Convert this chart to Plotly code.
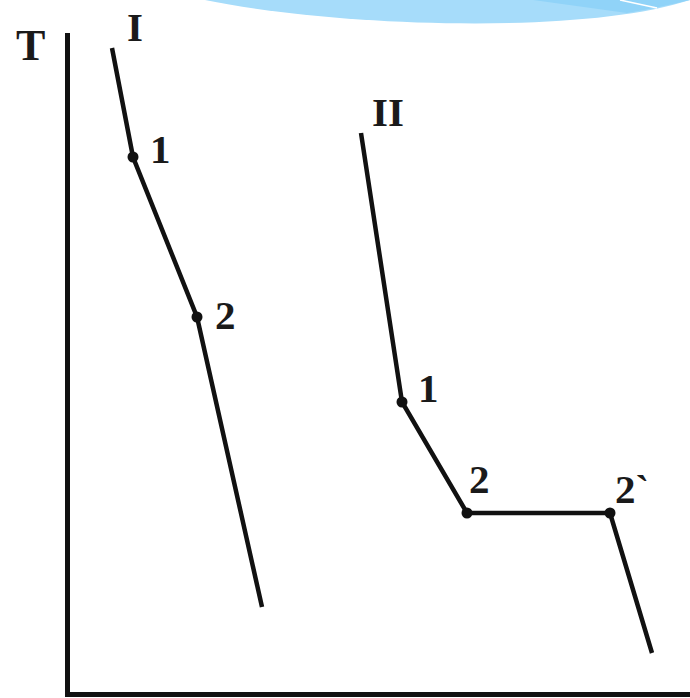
import plotly.graph_objects as go

# Cooling curves: time (arbitrary units) vs temperature T (arbitrary units)
curve1_time = [42, 63, 127, 192]
curve1_temp = [644, 535, 375, 85]
curve1_marked = [False, True, True, False]

curve2_time = [291, 332, 397, 540, 582]
curve2_temp = [559, 290, 179, 179, 39]
curve2_marked = [False, True, True, True, False]

# Labels of the curves and their break points
curve_names = ["I", "II"]
point_labels_1 = ["1", "2"]
point_labels_2 = ["1", "2", "2`"]

W, H = 690, 698
ML, MR, MT, MB = 70, 0, 33, 6
X_RANGE = [0, W - ML - MR]
Y_RANGE = [0, H - MT - MB]

INK = "#111111"
SERIF = "Liberation Serif, Times New Roman, serif"

fig = go.Figure()

for xs, ys, marks in [(curve1_time, curve1_temp, curve1_marked),
                      (curve2_time, curve2_temp, curve2_marked)]:
    fig.add_trace(go.Scatter(
        x=xs, y=ys, mode="lines",
        line=dict(color=INK, width=4.5),
        hoverinfo="skip", showlegend=False,
    ))
    fig.add_trace(go.Scatter(
        x=[x for x, m in zip(xs, marks) if m],
        y=[y for y, m in zip(ys, marks) if m],
        mode="markers",
        marker=dict(color=INK, size=11),
        hoverinfo="skip", showlegend=False,
    ))

# labels are placed in paper space so that they may sit outside the axis ranges
def label(text, x, y, size=41):
    fig.add_annotation(x=x / X_RANGE[1], y=y / Y_RANGE[1], xref="paper", yref="paper",
                       text=f"<b>{text}</b>", showarrow=False,
                       font=dict(family=SERIF, size=size, color="#1a1a1a"),
                       xanchor="center", yanchor="middle")

# curve names just above each curve's start
label(curve_names[0], curve1_time[0] + 23, curve1_temp[0] + 21)
label(curve_names[1], curve2_time[0] + 27, curve2_temp[0] + 21)

# break point labels, to the upper right of each marked point
pts1 = [(x, y) for x, y, m in zip(curve1_time, curve1_temp, curve1_marked) if m]
offs1 = [(27, 8), (28, 2)]
for t, (x, y), (dx, dy) in zip(point_labels_1, pts1, offs1):
    label(t, x + dx, y + dy)

pts2 = [(x, y) for x, y, m in zip(curve2_time, curve2_temp, curve2_marked) if m]
offs2 = [(26, 14), (12, 34), (22, 24)]
for t, (x, y), (dx, dy) in zip(point_labels_2, pts2, offs2):
    label(t, x + dx, y + dy)

# axis title T at the top of the vertical axis
label("T", 30 - ML, H - MB - 46, size=44)

# decorative blue swoosh along the top edge (pixel -> paper helpers)
def px(x):
    return (x - ML) / X_RANGE[1]

def py(y):
    return (H - MB - y) / Y_RANGE[1]

def path(cmds):
    out = []
    for c in cmds:
        if isinstance(c, str):
            out.append(c)
        else:
            out.append(f"{px(c[0]):.5f},{py(c[1]):.5f}")
    return " ".join(out)

fig.add_shape(type="path", xref="paper", yref="paper", layer="above",
              path=path(["M", (205, -2), "L", (205, 0), "C", (330, 26), (580, 36), (690, 0),
                         "L", (690, -2), "Z"]),
              fillcolor="#a6dcfa", line=dict(width=0))
fig.add_shape(type="path", xref="paper", yref="paper", layer="above",
              path=path(["M", (533, -2), "L", (533, 0), "L", (627, 13), "Q", (662, 7), (690, 0),
                         "L", (690, -2), "Z"]),
              fillcolor="#90d3f8", line=dict(width=0))
fig.add_shape(type="line", xref="paper", yref="paper", layer="above",
              x0=px(620), y0=py(0), x1=px(657), y1=py(8),
              line=dict(color="white", width=1.5))

axis_common = dict(showline=True, linecolor=INK, linewidth=5, showgrid=False,
                   zeroline=False, showticklabels=False, ticks="", fixedrange=True)

fig.update_layout(
    width=W, height=H,
    margin=dict(l=ML, r=MR, t=MT, b=MB),
    paper_bgcolor="white", plot_bgcolor="white",
    xaxis=dict(range=X_RANGE, **axis_common),
    yaxis=dict(range=Y_RANGE, **axis_common),
)

fig.write_html("out.html")
